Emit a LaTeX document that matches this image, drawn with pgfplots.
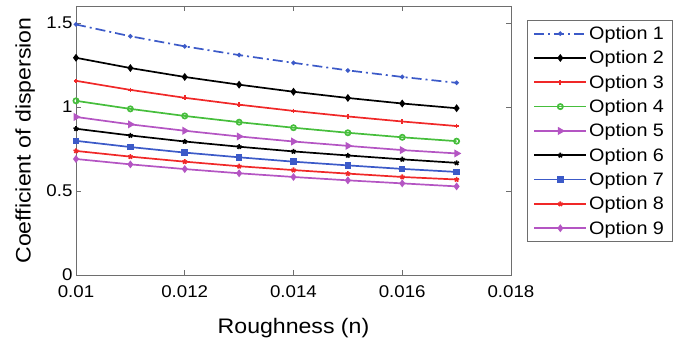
\documentclass[border=0pt]{standalone}
\usepackage{pgfplots}
\pgfplotsset{compat=1.18}
\usepackage{fontspec}
\setmainfont{Liberation Sans}[FakeStretch=1.1]
\definecolor{cblue}{RGB}{60,90,200}
\definecolor{cred}{RGB}{240,40,40}
\definecolor{cgreen}{RGB}{70,190,60}
\definecolor{cmag}{RGB}{180,85,195}
\definecolor{caxis}{RGB}{110,110,110}
\begin{document}
\begin{tikzpicture}
\useasboundingbox (-76bp,-68bp) rectangle (604bp,275bp);
\begin{axis}[
  scale only axis,
  width=435bp, height=269bp,
  at={(0,0)}, anchor=south west,
  xmin=0.01, xmax=0.018, ymin=0, ymax=1.6,
  xtick={0.01,0.012,0.014,0.016,0.018},
  ytick={0,0.5,1,1.5},
  scaled ticks=false,
  xticklabel style={yshift=-7bp,/pgf/number format/.cd,fixed,precision=3},
  yticklabel style={/pgf/number format/.cd,fixed,precision=1},
  /pgf/number format/assume math mode=true,
  tick label style={font=\fontsize{17bp}{20bp}\selectfont},
  label style={font=\fontsize{21bp}{24bp}\selectfont},
  xlabel={Roughness (n)},
  ylabel={Coefficient of dispersion},
  xlabel style={at={(axis description cs:0.5,-0.197)},anchor=center},
  ylabel style={at={(axis description cs:-0.117,0.5)},anchor=center},
  axis line style={caxis, line width=0.8bp},
  major tick style={caxis, line width=0.6bp},
  major tick length=5bp,
  tick align=inside,
  every axis plot post/.append style={line width=1.7bp},
  legend image code/.code={\draw[mark repeat=2,mark phase=2] plot coordinates {(0bp,0bp) (26bp,0bp) (52bp,0bp)};},
  legend style={at={(1.037,0.948)}, anchor=north west, draw=caxis, line width=0.8bp,
    font=\fontsize{18bp}{21bp}\selectfont, row sep=5.8bp, inner xsep=6bp, inner ysep=4bp,
    legend cell align=left},
]
\addplot[cblue, dash pattern=on 10bp off 4bp on 2bp off 4bp, mark=*, mark size=1.3bp, mark options={solid}] coordinates {
(0.010,1.490) (0.011,1.420) (0.012,1.360) (0.013,1.308) (0.014,1.262) (0.015,1.217) (0.016,1.178) (0.017,1.143)};
\addlegendentry{Option 1}
\addplot[black, mark=diamond*, mark size=2.6bp] coordinates {
(0.010,1.292) (0.011,1.231) (0.012,1.178) (0.013,1.132) (0.014,1.090) (0.015,1.053) (0.016,1.020) (0.017,0.992)};
\addlegendentry{Option 2}
\addplot[cred, mark=+, mark size=2.3bp] coordinates {
(0.010,1.155) (0.011,1.101) (0.012,1.054) (0.013,1.013) (0.014,0.976) (0.015,0.943) (0.016,0.913) (0.017,0.886)};
\addlegendentry{Option 3}
\addplot[cgreen, mark=o, mark size=2.6bp] coordinates {
(0.010,1.036) (0.011,0.988) (0.012,0.946) (0.013,0.909) (0.014,0.876) (0.015,0.846) (0.016,0.819) (0.017,0.796)};
\addlegendentry{Option 4}
\addplot[cmag, mark=triangle*, mark size=3bp, mark options={rotate=-90}] coordinates {
(0.010,0.940) (0.011,0.896) (0.012,0.858) (0.013,0.824) (0.014,0.794) (0.015,0.768) (0.016,0.743) (0.017,0.723)};
\addlegendentry{Option 5}
\addplot[black, mark=star, mark size=2.6bp] coordinates {
(0.010,0.870) (0.011,0.830) (0.012,0.794) (0.013,0.763) (0.014,0.735) (0.015,0.711) (0.016,0.688) (0.017,0.667)};
\addlegendentry{Option 6}
\addplot[cblue, mark=square*, mark size=2.4bp] coordinates {
(0.010,0.798) (0.011,0.761) (0.012,0.728) (0.013,0.700) (0.014,0.674) (0.015,0.652) (0.016,0.631) (0.017,0.613)};
\addlegendentry{Option 7}
\addplot[cred, mark=star, mark size=2.6bp] coordinates {
(0.010,0.738) (0.011,0.704) (0.012,0.674) (0.013,0.647) (0.014,0.624) (0.015,0.603) (0.016,0.583) (0.017,0.568)};
\addlegendentry{Option 8}
\addplot[cmag, mark=diamond*, mark size=2.6bp] coordinates {
(0.010,0.690) (0.011,0.658) (0.012,0.630) (0.013,0.605) (0.014,0.583) (0.015,0.563) (0.016,0.545) (0.017,0.527)};
\addlegendentry{Option 9}
\end{axis}
\end{tikzpicture}
\end{document}
